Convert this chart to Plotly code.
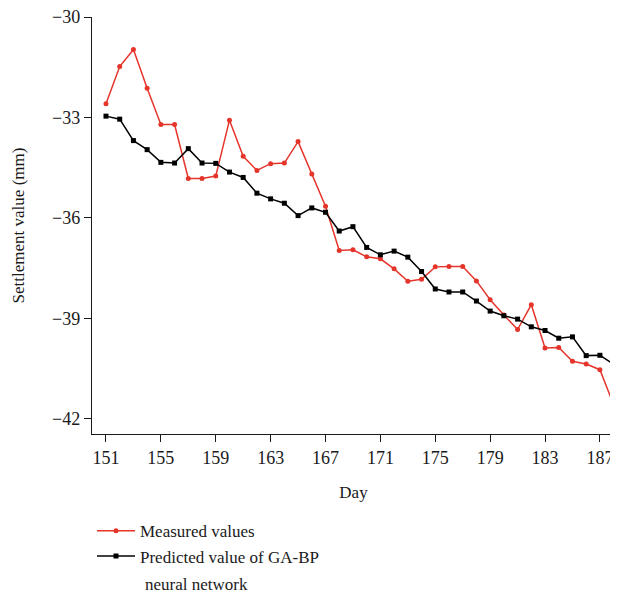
import plotly.graph_objects as go

days = list(range(151, 189))
measured = [-32.59, -31.48, -30.97, -32.13, -33.21, -33.21, -34.82, -34.82, -34.75, -33.08,
            -34.16, -34.58, -34.38, -34.36, -33.72, -34.69, -35.65, -36.97, -36.95, -37.16,
            -37.22, -37.52, -37.89, -37.83, -37.46, -37.45, -37.45, -37.88, -38.44, -38.90,
            -39.33, -38.59, -39.88, -39.87, -40.28, -40.36, -40.53, -41.58]
predicted = [-32.96, -33.05, -33.69, -33.96, -34.34, -34.36, -33.93, -34.36, -34.37, -34.63,
             -34.79, -35.26, -35.43, -35.56, -35.93, -35.70, -35.83, -36.39, -36.26, -36.88,
             -37.10, -36.99, -37.17, -37.60, -38.12, -38.21, -38.21, -38.48, -38.78, -38.92,
             -39.02, -39.25, -39.36, -39.59, -39.55, -40.11, -40.10, -40.37]
x_ticks = [151, 155, 159, 163, 167, 171, 175, 179, 183, 187]
y_ticks = [-30, -33, -36, -39, -42]
y_tick_text = ["\u221230", "\u221233", "\u221236", "\u221239", "\u221242"]

FONT = "Liberation Serif"
INK = "#1a1a1a"

fig = go.Figure()
fig.add_trace(go.Scatter(
    x=days, y=measured, mode="lines+markers", name="Measured values",
    line=dict(color="#e5352b", width=1.5),
    marker=dict(symbol="circle", size=5, color="#e5352b"),
))
fig.add_trace(go.Scatter(
    x=days, y=predicted, mode="lines+markers",
    name="Predicted value of GA-BP",
    line=dict(color="#000000", width=1.5),
    marker=dict(symbol="square", size=5, color="#000000"),
))

fig.add_annotation(
    text="neural network", xref="paper", yref="paper", x=0.0975, y=-0.36,
    xanchor="left", yanchor="middle", showarrow=False,
    font=dict(family=FONT, size=17, color=INK),
)

fig.update_layout(
    width=610, height=591,
    margin=dict(l=84, r=3, t=9, b=165, autoexpand=False),
    paper_bgcolor="white", plot_bgcolor="white",
    font=dict(family=FONT, size=17, color=INK),
    xaxis=dict(
        range=[149.98, 188.1], tickvals=x_ticks, ticks="outside", ticklen=7,
        tickwidth=1.2, tickcolor=INK, showline=True, linecolor=INK,
        linewidth=1.3, showgrid=False, zeroline=False, ticklabeloverflow="allow",
        automargin=False,
        title=dict(text="Day", standoff=19, font=dict(size=17)),
        tickfont=dict(size=18),
    ),
    yaxis=dict(
        range=[-42.45, -30], tickvals=y_ticks, ticktext=y_tick_text, ticks="outside",
        ticklen=7, tickwidth=1.2, tickcolor=INK, showline=True,
        linecolor=INK, linewidth=1.3, showgrid=False, zeroline=False,
        ticklabeloverflow="allow", automargin=False,
        title=dict(text="Settlement value (mm)", standoff=23, font=dict(size=17)),
        tickfont=dict(size=18),
    ),
    legend=dict(
        x=0.0, y=-0.19, xanchor="left", yanchor="top",
        font=dict(family=FONT, size=17, color=INK),
        bgcolor="rgba(0,0,0,0)", tracegroupgap=0, itemwidth=38,
    ),
    showlegend=True,
)

fig.write_html("out.html")
